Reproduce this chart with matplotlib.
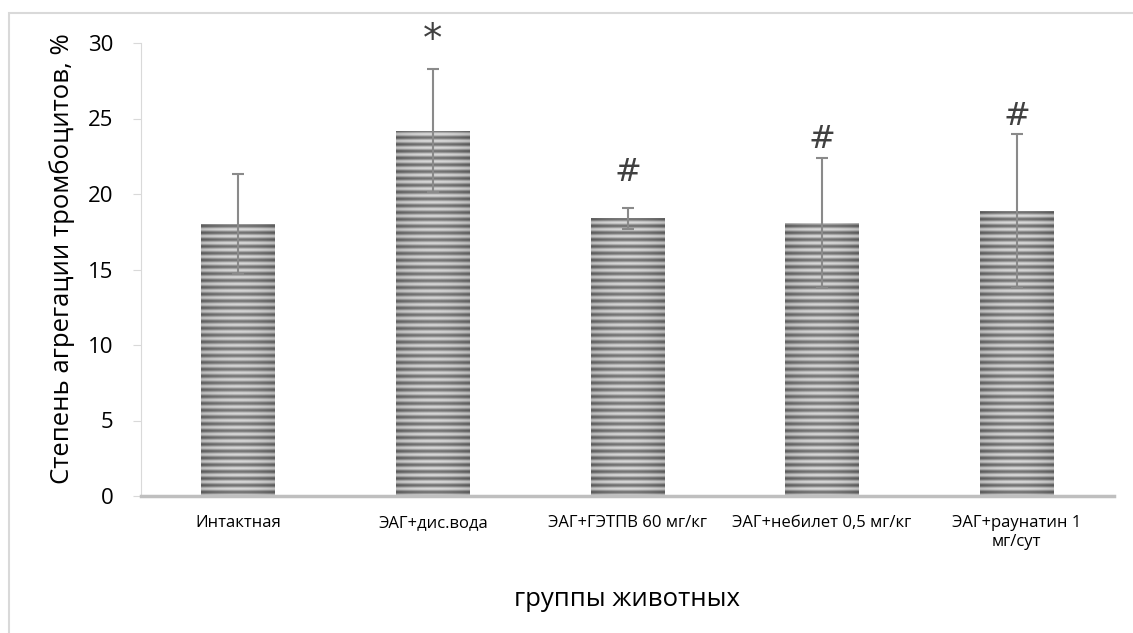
import numpy as np
import matplotlib
matplotlib.use('Agg')
import matplotlib.pyplot as plt
from matplotlib.patches import Rectangle

plt.rcParams['font.family'] = ['Open Sans', 'DejaVu Sans']

# data
groups = ['Интактная', 'ЭАГ+дис.вода', 'ЭАГ+ГЭТПВ 60 мг/кг',
          'ЭАГ+небилет 0,5 мг/кг', 'ЭАГ+раунатин 1\nмг/сут']
means = [18.0, 24.2, 18.4, 18.1, 18.9]
errs = [3.3, 4.1, 0.7, 4.3, 5.1]
marks = ['', '*', '#', '#', '#']
mark_y = [0, 30.2, 21.4, 23.6, 25.1]

fig = plt.figure(figsize=(11.33, 6.33), dpi=100)
# light frame around the chart area (as in the original office chart)
fig.add_artist(Rectangle((9 / 1133, -0.1), 1.2, 1.1 - 13 / 633, transform=fig.transFigure,
                         fill=False, edgecolor='#d9d9d9', lw=1.5))
ax = fig.add_axes([141 / 1133, 137 / 633, 973 / 1133, 453 / 633])

x = np.arange(len(groups))
bars = ax.bar(x, means, width=0.38, color='#a6a6a6', zorder=2)
ax.errorbar(x, means, yerr=errs, fmt='none', ecolor='#8a8a8a', elinewidth=1.5,
            capsize=4.3, capthick=1.5, zorder=4)

ax.set_xlim(-0.5, len(groups) - 0.5)
ax.set_ylim(0, 30)
ax.set_yticks(range(0, 31, 5))
ax.set_xticks(x)
ax.set_xticklabels(groups, fontsize=12)
ax.tick_params(axis='y', labelsize=16, length=6, color='#d9d9d9', pad=14)
ax.tick_params(axis='x', length=0, pad=14)

for s in ['top', 'right']:
    ax.spines[s].set_visible(False)
ax.spines['left'].set_color('#d9d9d9')
ax.spines['bottom'].set_color('#bfbfbf')
ax.spines['bottom'].set_linewidth(2.5)
ax.spines['bottom'].set_zorder(5)

ax.set_ylabel('Степень агрегации тромбоцитов, %', fontsize=18.5)
ax.yaxis.set_label_coords(-0.068, 0.525)
ax.set_xlabel('группы животных', fontsize=18.5, labelpad=27)

# striped texture inside the bars
fig.canvas.draw()
for b in bars:
    x0, y0 = b.get_x(), b.get_y()
    w, h = b.get_width(), b.get_height()
    (px0, py0), (px1, py1) = ax.transData.transform([(x0, y0), (x0 + w, y0 + h)])
    nr, nc = max(int(py1 - py0), 2), max(int(px1 - px0), 2)
    rows = np.arange(nr)[::-1]
    stripe = 0.6 + 0.2 * np.cos(2 * np.pi * rows / 6.8)
    cols = np.linspace(-1, 1, nc)
    shade = 0.05 - 0.1 * cols ** 2
    tex = np.clip(stripe[:, None] + shade[None, :], 0, 1)
    im = ax.imshow(tex, cmap='gray', vmin=0, vmax=1, extent=(x0, x0 + w, y0, y0 + h),
                   aspect='auto', interpolation='bilinear', zorder=3)
    im.set_clip_path(b)

for xi, m, my in zip(x, marks, mark_y):
    if m:
        ax.text(xi, my, m, ha='center', va='center', fontsize=28 if m == '*' else 23,
                color='#404040', family='DejaVu Sans', zorder=6)

fig.savefig('out.png', dpi=100)
